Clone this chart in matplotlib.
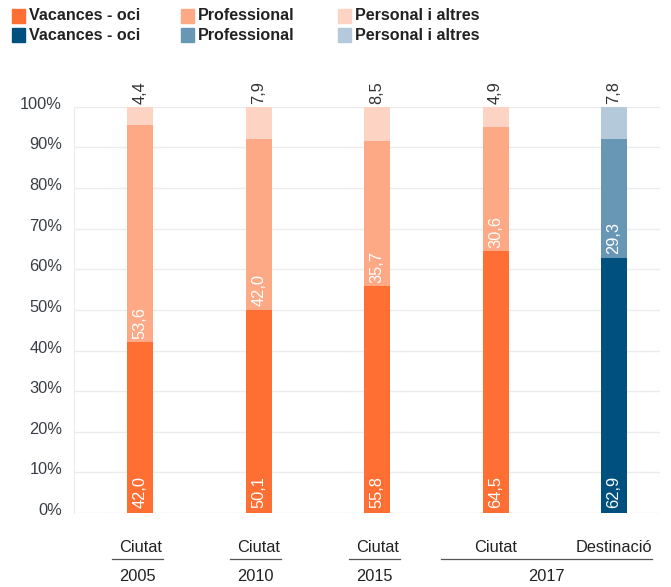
import matplotlib
matplotlib.use("Agg")
import matplotlib.pyplot as plt
import matplotlib.transforms as mtransforms
from matplotlib.patches import Rectangle
import numpy as np

plt.rcParams['font.family'] = ['Liberation Sans', 'DejaVu Sans']

# data
categories = ["Ciutat", "Ciutat", "Ciutat", "Ciutat", "Destinació"]
years = ["2005", "2010", "2015", "2017"]
year_groups = [[0], [1], [2], [3, 4]]
vacances = [42.0, 50.1, 55.8, 64.5, 62.9]
professional = [53.6, 42.0, 35.7, 30.6, 29.3]
personal = [4.4, 7.9, 8.5, 4.9, 7.8]
legend_names = ["Vacances - oci", "Professional", "Personal i altres"]

orange = ["#FF6F33", "#FDA985", "#FDD4C3"]
blue = ["#00507F", "#6897B6", "#B4CADA"]
colors = [orange, orange, orange, orange, blue]

fig = plt.figure(figsize=(6.71, 5.87), dpi=100)
ax = fig.add_axes([0.110, 0.126, 0.874, 0.692])

x = np.arange(len(categories))
w = 0.22
fmt = lambda v: f"{v:.1f}".replace(".", ",")
for i in x:
    c = colors[i]
    ax.bar(i, vacances[i], w, color=c[0], zorder=2)
    ax.bar(i, professional[i], w, bottom=vacances[i], color=c[1], zorder=2)
    ax.bar(i, personal[i], w, bottom=vacances[i] + professional[i], color=c[2], zorder=2)
    ax.text(i, 1.2, fmt(vacances[i]), rotation=90, ha="center", va="bottom",
            color="white", fontsize=11.8, zorder=3)
    ax.text(i, vacances[i] + 0.8, fmt(professional[i]), rotation=90, ha="center",
            va="bottom", color="white", fontsize=11.8, zorder=3)
    ax.text(i, 100.8, fmt(personal[i]), rotation=90, ha="center", va="bottom",
            color="#333333", fontsize=11.8, clip_on=False)

ax.set_xlim(-0.56, 4.39)
ax.set_ylim(0, 100)
ax.set_yticks(np.arange(0, 101, 10))
ax.set_yticklabels([f"{v}%" for v in range(0, 101, 10)])
ax.tick_params(axis="y", length=0, labelsize=11.8, labelcolor="#3a3f45", pad=8.5)
offset = mtransforms.ScaledTranslation(0, 4 / 100, fig.dpi_scale_trans)
for lab in ax.get_yticklabels():
    lab.set_transform(lab.get_transform() + offset)
ax.set_xticks([])
ax.grid(axis="y", color="#ececec", lw=1, zorder=0)
for s in ["top", "right", "bottom"]:
    ax.spines[s].set_visible(False)
ax.spines["left"].set_color("#ececec")

# category labels and year groups below axis
tr = mtransforms.blended_transform_factory(ax.transData, ax.transAxes)
for i, name in enumerate(categories):
    ax.text(i, -0.085, name, ha="center", va="center", fontsize=11.8,
            color="#222222", transform=tr)
for yr, grp in zip(years, year_groups):
    if len(grp) == 1:
        x0, x1 = grp[0] - 0.24, grp[0] + 0.19
    else:
        x0, x1 = grp[0] - 0.46, grp[-1] + 0.32
    ax.plot([x0, x1], [-0.113, -0.113], color="#555555", lw=0.9,
            transform=tr, clip_on=False)
    ax.text((x0 + x1) / 2, -0.157, yr, ha="center", va="center", fontsize=11.8,
            color="#222222", transform=tr)

# legend
col_x = [12, 181, 338]
row_y = [16, 35]
H, W = 587.0, 671.0
for r, cols in enumerate([orange, blue]):
    for k in range(3):
        fig.patches.append(Rectangle((col_x[k] / W, 1 - (row_y[r] + 6.5) / H), 13 / W, 13 / H,
                                     color=cols[k], transform=fig.transFigure))
        fig.text((col_x[k] + 17) / W, 1 - row_y[r] / H, legend_names[k], ha="left",
                 va="center", fontsize=11.6, fontweight="bold", color="#222222")

fig.savefig("out.png", dpi=100)
